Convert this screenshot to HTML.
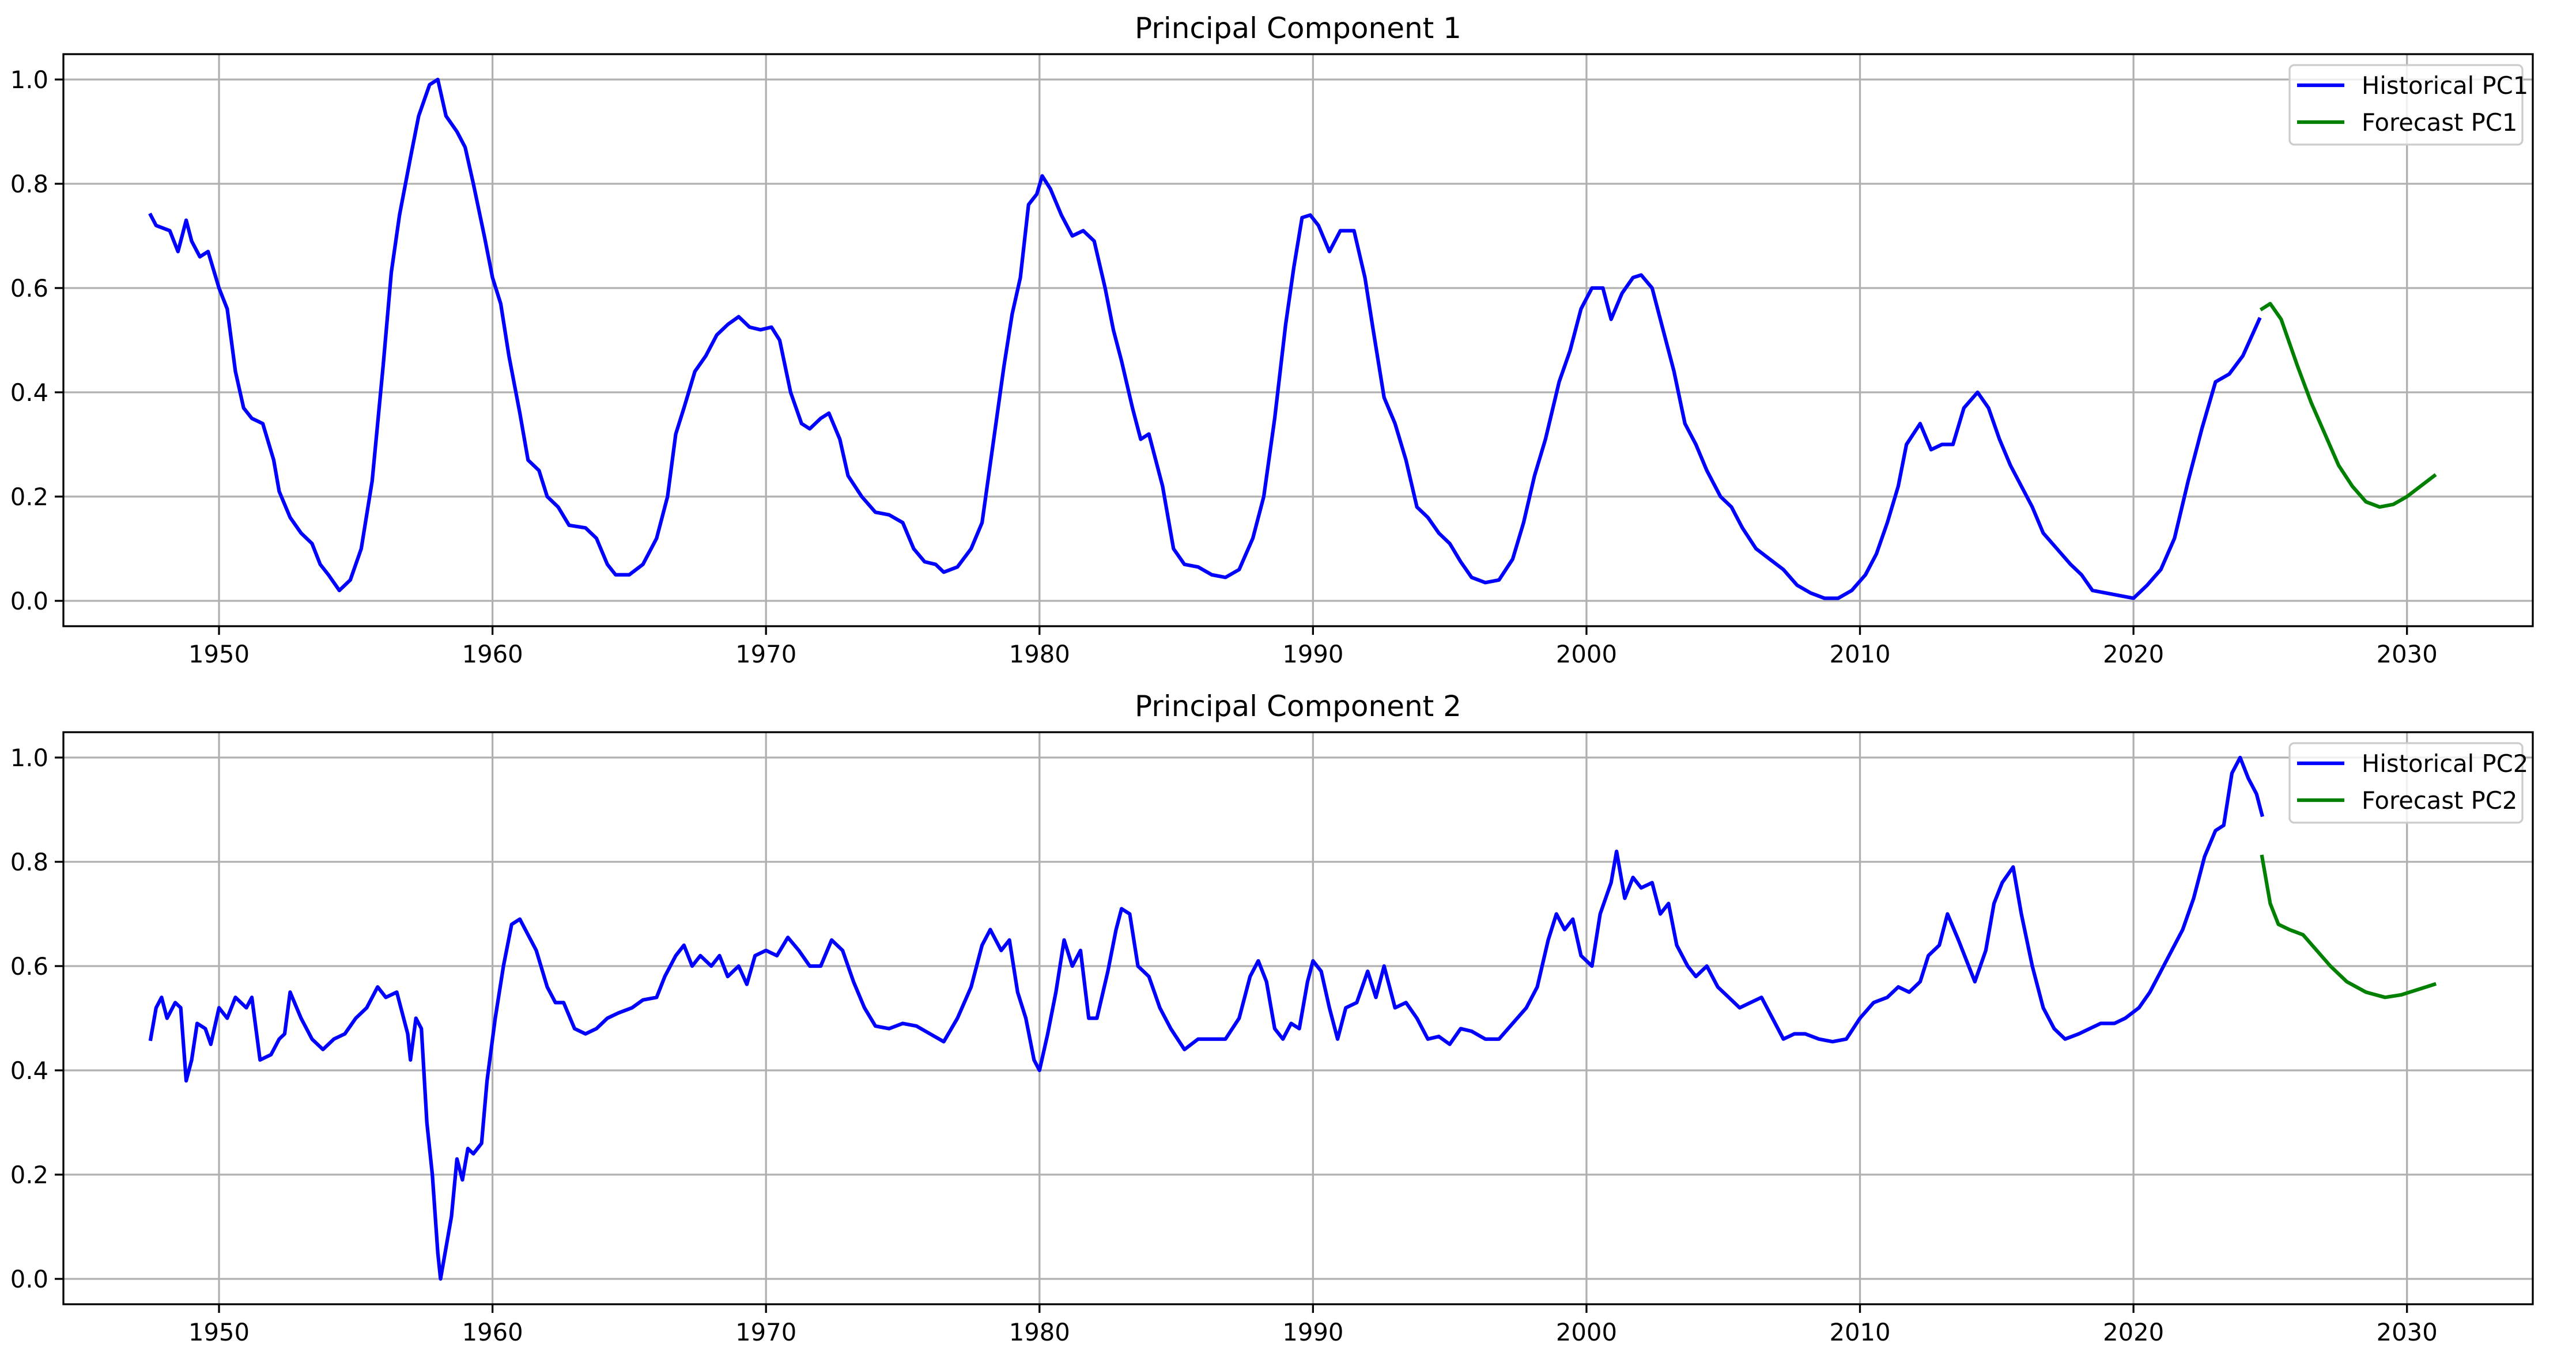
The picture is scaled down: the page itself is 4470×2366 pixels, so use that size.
<!DOCTYPE html>
<html><head><meta charset="utf-8"><style>
html,body{margin:0;padding:0;background:#fff;}
svg{display:block;font-family:"DejaVu Sans","Liberation Sans",sans-serif;}
</style></head><body>
<svg id="chart" width="4470" height="2366" viewBox="0 0 4470 2366" xmlns="http://www.w3.org/2000/svg"></svg>
<script>
const xTicks = [1950,1960,1970,1980,1990,2000,2010,2020,2030];
const yTicks = [0.0,0.2,0.4,0.6,0.8,1.0];

const pc1HistYears = [1947.5,1947.7,1948.2,1948.5,1948.8,1949,1949.3,1949.6,1950,1950.3,1950.6,1950.9,1951.2,1951.6,1952,1952.2,1952.6,1953,1953.4,1953.7,1954,1954.4,1954.8,1955.2,1955.6,1956,1956.3,1956.6,1957,1957.3,1957.7,1958,1958.3,1958.7,1959,1959.3,1959.7,1960,1960.3,1960.6,1961,1961.3,1961.7,1962,1962.4,1962.8,1963.4,1963.8,1964.2,1964.5,1965,1965.5,1966,1966.4,1966.7,1967,1967.4,1967.8,1968.2,1968.6,1969,1969.4,1969.8,1970.2,1970.5,1970.9,1971.3,1971.6,1972,1972.3,1972.7,1973,1973.5,1974,1974.5,1975,1975.4,1975.8,1976.2,1976.5,1977,1977.5,1977.9,1978.3,1978.7,1979,1979.3,1979.6,1979.9,1980.1,1980.4,1980.8,1981.2,1981.6,1982,1982.4,1982.7,1983,1983.4,1983.7,1984,1984.5,1984.9,1985.3,1985.8,1986.3,1986.8,1987.3,1987.8,1988.2,1988.6,1989,1989.3,1989.6,1989.9,1990.2,1990.6,1991,1991.5,1991.9,1992.2,1992.6,1993,1993.4,1993.8,1994.2,1994.6,1995,1995.4,1995.8,1996.3,1996.8,1997.3,1997.7,1998.1,1998.5,1999,1999.4,1999.8,2000.2,2000.6,2000.9,2001.3,2001.7,2002,2002.4,2002.8,2003.2,2003.6,2004,2004.4,2004.9,2005.3,2005.7,2006.2,2006.7,2007.2,2007.7,2008.2,2008.7,2009.2,2009.7,2010.2,2010.6,2011,2011.4,2011.7,2012.2,2012.6,2013,2013.4,2013.8,2014.3,2014.7,2015.1,2015.5,2015.9,2016.3,2016.7,2017.2,2017.7,2018.1,2018.5,2019,2019.5,2020,2020.5,2021,2021.5,2022,2022.5,2023,2023.5,2024,2024.6];
const pc1HistValues = [0.74,0.72,0.71,0.67,0.73,0.69,0.66,0.67,0.60,0.56,0.44,0.37,0.35,0.34,0.27,0.21,0.16,0.13,0.11,0.07,0.05,0.02,0.04,0.10,0.23,0.45,0.63,0.74,0.85,0.93,0.99,1.0,0.93,0.90,0.87,0.80,0.70,0.62,0.57,0.47,0.36,0.27,0.25,0.20,0.18,0.145,0.14,0.12,0.07,0.05,0.05,0.07,0.12,0.20,0.32,0.37,0.44,0.47,0.51,0.53,0.545,0.525,0.52,0.525,0.50,0.40,0.34,0.33,0.35,0.36,0.31,0.24,0.20,0.17,0.165,0.15,0.10,0.075,0.07,0.055,0.065,0.10,0.15,0.30,0.45,0.55,0.62,0.76,0.78,0.815,0.79,0.74,0.70,0.71,0.69,0.60,0.52,0.46,0.37,0.31,0.32,0.22,0.10,0.07,0.065,0.05,0.045,0.06,0.12,0.20,0.35,0.53,0.64,0.735,0.74,0.72,0.67,0.71,0.71,0.62,0.52,0.39,0.34,0.27,0.18,0.16,0.13,0.11,0.075,0.045,0.035,0.04,0.08,0.15,0.24,0.31,0.42,0.48,0.56,0.60,0.60,0.54,0.59,0.62,0.625,0.60,0.52,0.44,0.34,0.30,0.25,0.20,0.18,0.14,0.10,0.08,0.06,0.03,0.015,0.005,0.005,0.02,0.05,0.09,0.15,0.22,0.30,0.34,0.29,0.30,0.30,0.37,0.40,0.37,0.31,0.26,0.22,0.18,0.13,0.10,0.07,0.05,0.02,0.015,0.01,0.005,0.03,0.06,0.12,0.23,0.33,0.42,0.435,0.47,0.54];
const pc1FcYears = [2024.7,2025,2025.4,2026,2026.5,2027,2027.5,2028,2028.5,2029,2029.5,2030,2030.5,2031];
const pc1FcValues = [0.56,0.57,0.54,0.45,0.38,0.32,0.26,0.22,0.19,0.18,0.185,0.20,0.22,0.24];

const pc2HistYears = [1947.5,1947.7,1947.9,1948.1,1948.4,1948.6,1948.8,1949,1949.2,1949.5,1949.7,1950,1950.3,1950.6,1951,1951.2,1951.5,1951.9,1952.2,1952.4,1952.6,1953,1953.4,1953.8,1954.2,1954.6,1955,1955.4,1955.8,1956.1,1956.5,1956.9,1957,1957.2,1957.4,1957.6,1957.8,1958,1958.1,1958.3,1958.5,1958.7,1958.9,1959.1,1959.3,1959.6,1959.8,1960.1,1960.4,1960.7,1961,1961.3,1961.6,1962,1962.3,1962.6,1963,1963.4,1963.8,1964.2,1964.6,1965.1,1965.5,1966,1966.3,1966.7,1967,1967.3,1967.6,1968,1968.3,1968.6,1969,1969.3,1969.6,1970,1970.4,1970.8,1971.2,1971.6,1972,1972.4,1972.8,1973.2,1973.6,1974,1974.5,1975,1975.5,1976,1976.5,1977,1977.5,1977.9,1978.2,1978.6,1978.9,1979.2,1979.5,1979.8,1980,1980.3,1980.6,1980.9,1981.2,1981.5,1981.8,1982.1,1982.5,1982.8,1983,1983.3,1983.6,1984,1984.4,1984.8,1985.3,1985.8,1986.3,1986.8,1987.3,1987.7,1988,1988.3,1988.6,1988.9,1989.2,1989.5,1989.8,1990,1990.3,1990.6,1990.9,1991.2,1991.6,1992,1992.3,1992.6,1993,1993.4,1993.8,1994.2,1994.6,1995,1995.4,1995.8,1996.3,1996.8,1997.3,1997.8,1998.2,1998.6,1998.9,1999.2,1999.5,1999.8,2000.2,2000.5,2000.9,2001.1,2001.4,2001.7,2002,2002.4,2002.7,2003,2003.3,2003.7,2004,2004.4,2004.8,2005.2,2005.6,2006,2006.4,2006.8,2007.2,2007.6,2008,2008.5,2009,2009.5,2010,2010.5,2011,2011.4,2011.8,2012.2,2012.5,2012.9,2013.2,2013.6,2013.9,2014.2,2014.6,2014.9,2015.2,2015.6,2015.9,2016.3,2016.7,2017.1,2017.5,2018,2018.4,2018.8,2019.3,2019.7,2020.2,2020.6,2021,2021.4,2021.8,2022.2,2022.6,2023,2023.3,2023.6,2023.9,2024.2,2024.5,2024.7];
const pc2HistValues = [0.46,0.52,0.54,0.50,0.53,0.52,0.38,0.42,0.49,0.48,0.45,0.52,0.50,0.54,0.52,0.54,0.42,0.43,0.46,0.47,0.55,0.50,0.46,0.44,0.46,0.47,0.50,0.52,0.56,0.54,0.55,0.47,0.42,0.50,0.48,0.30,0.20,0.05,0.0,0.06,0.12,0.23,0.19,0.25,0.24,0.26,0.38,0.50,0.60,0.68,0.69,0.66,0.63,0.56,0.53,0.53,0.48,0.47,0.48,0.50,0.51,0.52,0.535,0.54,0.58,0.62,0.64,0.60,0.62,0.60,0.62,0.58,0.60,0.565,0.62,0.63,0.62,0.655,0.63,0.60,0.60,0.65,0.63,0.57,0.52,0.485,0.48,0.49,0.485,0.47,0.455,0.50,0.56,0.64,0.67,0.63,0.65,0.55,0.50,0.42,0.40,0.47,0.55,0.65,0.60,0.63,0.50,0.50,0.59,0.67,0.71,0.70,0.60,0.58,0.52,0.48,0.44,0.46,0.46,0.46,0.50,0.58,0.61,0.57,0.48,0.46,0.49,0.48,0.57,0.61,0.59,0.52,0.46,0.52,0.53,0.59,0.54,0.60,0.52,0.53,0.50,0.46,0.465,0.45,0.48,0.475,0.46,0.46,0.49,0.52,0.56,0.65,0.70,0.67,0.69,0.62,0.60,0.70,0.76,0.82,0.73,0.77,0.75,0.76,0.70,0.72,0.64,0.60,0.58,0.60,0.56,0.54,0.52,0.53,0.54,0.50,0.46,0.47,0.47,0.46,0.455,0.46,0.50,0.53,0.54,0.56,0.55,0.57,0.62,0.64,0.70,0.65,0.61,0.57,0.63,0.72,0.76,0.79,0.70,0.60,0.52,0.48,0.46,0.47,0.48,0.49,0.49,0.50,0.52,0.55,0.59,0.63,0.67,0.73,0.81,0.86,0.87,0.97,1.0,0.96,0.93,0.89];
const pc2FcYears = [2024.7,2025,2025.3,2025.7,2026.2,2026.7,2027.2,2027.8,2028.5,2029.2,2029.8,2030.4,2031];
const pc2FcValues = [0.81,0.72,0.68,0.67,0.66,0.63,0.60,0.57,0.55,0.54,0.545,0.555,0.565];

const NS = "http://www.w3.org/2000/svg";
const svg = document.getElementById("chart");
const X0 = 110, X1 = 4395, YR0 = 1944.31, YR1 = 2034.6;
function xScale(v){ return X0 + (v - YR0) / (YR1 - YR0) * (X1 - X0); }
function mk(tag, attrs, parent){ const e = document.createElementNS(NS, tag); for (const k in attrs) e.setAttribute(k, attrs[k]); (parent||svg).appendChild(e); return e; }

function drawPanel(top, bottom, title, hy, hv, fy, fv, n){
  const y1 = top + 44, y0 = y1 + 905;
  const yScale = v => y0 - v * (y0 - y1);
  const g = mk("g", {});
  
  
  xTicks.forEach(t => {
    const x = xScale(t);
    const gl = mk("line", {x1:x, x2:x, y1:top, y2:bottom, stroke:"#b0b0b0", "stroke-width":3.3}, g);
    
    
    mk("line", {x1:x, x2:x, y1:bottom, y2:bottom+15, stroke:"#000", "stroke-width":3.3}, g);
    const tx = mk("text", {x:x, y:bottom+63, "font-size":41.7, "text-anchor":"middle", fill:"#000"}, g);
    tx.textContent = t;
    
    
  });
  yTicks.forEach(t => {
    const y = yScale(t);
    const gl = mk("line", {x1:X0, x2:X1, y1:y, y2:y, stroke:"#b0b0b0", "stroke-width":3.3}, g);
    
    
    mk("line", {x1:X0-15, x2:X0, y1:y, y2:y, stroke:"#000", "stroke-width":3.3}, g);
    const tx = mk("text", {x:X0-26, y:y+15, "font-size":41.7, "text-anchor":"end", fill:"#000"}, g);
    tx.textContent = t.toFixed(1);
    
    
  });
  const p1 = mk("polyline", {points: hy.map((v,i)=>xScale(v)+","+yScale(hv[i])).join(" "), fill:"none", stroke:"#0000ff", "stroke-width":6.25, "stroke-linejoin":"round", "stroke-linecap":"square"}, g);
  
  
  const p2 = mk("polyline", {points: fy.map((v,i)=>xScale(v)+","+yScale(fv[i])).join(" "), fill:"none", stroke:"#008000", "stroke-width":6.25, "stroke-linejoin":"round", "stroke-linecap":"square"}, g);
  
  
  const fr = mk("rect", {x:X0, y:top, width:X1-X0, height:bottom-top, fill:"none", stroke:"#000", "stroke-width":3.3}, g);
  
  
  const tt = mk("text", {x:(X0+X1)/2, y:top-28, "font-size":50, "text-anchor":"middle", fill:"#000"}, g);
  tt.textContent = title;
  
  
  // legend
  const lg = mk("g", {}, g);
  
  
  const lt = top + 19;
  mk("rect", {x:3973, y:lt, width:404, height:138, rx:8, fill:"rgba(255,255,255,0.8)", stroke:"#cccccc", "stroke-width":3.3}, lg);
  [["Historical PC"+n,"#0000ff",35],["Forecast PC"+n,"#008000",99]].forEach(e => {
    mk("line", {x1:3986, x2:4068, y1:lt+e[2], y2:lt+e[2], stroke:e[1], "stroke-width":6.25}, lg);
    const tx = mk("text", {x:4098, y:lt+e[2]+15, "font-size":41.7, fill:"#000"}, lg);
    tx.textContent = e[0];
    
    
  });
}
drawPanel(94, 1087, "Principal Component 1", pc1HistYears, pc1HistValues, pc1FcYears, pc1FcValues, 1);
drawPanel(1271, 2264, "Principal Component 2", pc2HistYears, pc2HistValues, pc2FcYears, pc2FcValues, 2);
</script>
</body></html>
